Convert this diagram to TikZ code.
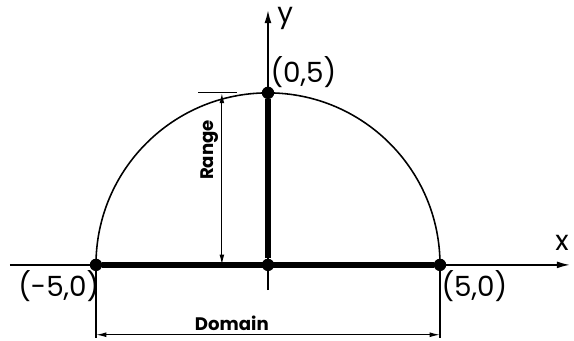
\documentclass[tikz,border=0pt]{standalone}
\usepackage{fontspec}
\setmainfont{Poppins}
\usetikzlibrary{positioning, arrows.meta}

\begin{document}
\begin{tikzpicture}[
      dot/.style={circle, fill=black, inner sep=0pt, minimum size=0.36cm},
      axis/.style={-{Latex[length=0.38cm, width=0.2cm]}, line width=1.4pt},
      heavy/.style={line width=5pt},
      dim/.style={{Latex[length=0.3cm, width=0.14cm]}-{Latex[length=0.3cm, width=0.14cm]}, line width=1pt},
      ext/.style={line width=1pt},
      lbl/.style={font=\fontsize{23}{25}\selectfont, inner sep=0pt},
      dimlbl/.style={font=\fontsize{15}{17}\selectfont\bfseries, inner sep=0pt}]
    \useasboundingbox (-7.79,-2.21) rectangle (8.895,7.70);
    % axes
    \coordinate (xl) at (-7.5,0);
    \coordinate (xr) at (8.78,0);
    \coordinate (yb) at (0,-0.73);
    \coordinate (yt) at (0,7.41);
    \draw[axis] (xl) -- (xr);
    \draw[axis] (yb) -- (yt);
    \node[lbl] (xlab) at (8.55,0.64) {x};
    \node[lbl] (ylab) at (0.5,7.15) {y};
    % semicircle
    \draw[line width=1.3pt] (5,0) arc (0:180:5);
    % points
    \node[dot] (left)   at (-5,0) {};
    \node[dot] (origin) at (0,0)  {};
    \node[dot] (right)  at (5,0)  {};
    \node[dot] (top)    at (0,5)  {};
    \draw[heavy] (left) -- (right);
    \draw[heavy] (origin) -- (top);
    \node[lbl] (leftlab)  at (-6.08,-0.62) {(-5,0)};
    \node[lbl] (rightlab) at (6.0,-0.62) {(5,0)};
    \node[lbl] (toplab)   at (1.03,5.61)  {(0,5)};
    % range
    \coordinate (rb) at (-1.34,0);
    \coordinate (rt) at (-1.34,5);
    \coordinate (ra) at (-2.03,5);
    \coordinate (rc) at (-0.9,5);
    \draw[ext] (ra) -- (rc);
    \draw[dim] (rb) -- (rt);
    \node[dimlbl, rotate=90] (range) at (-1.69,3.34) {Range};
    % domain
    \coordinate (dl) at (-5,-2.12);
    \coordinate (dr) at (5,-2.12);
    \draw[ext] (left) -- (dl);
    \draw[ext] (right) -- (dr);
    \draw[dim] (-5,-2.03) -- (5,-2.03);
    \node[dimlbl] (domain) at (-1.05,-1.69) {Domain};
  \end{tikzpicture}
\end{document}
